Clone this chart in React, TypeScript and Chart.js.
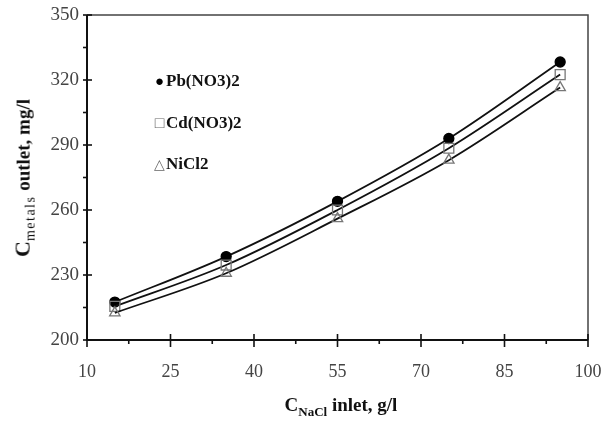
import React, { useEffect, useRef } from "react";
import { Chart, registerables } from "chart.js";

Chart.register(...registerables);

const xValues = [15, 35, 55, 75, 95];
const pbValues = [217.5, 238.5, 264, 293, 328.3];
const cdValues = [215.5, 234.6, 260, 288.5, 322.5];
const niValues = [212.5, 230.8, 256, 283, 316.5];
const seriesNames = ["Pb(NO3)2", "Cd(NO3)2", "NiCl2"];
const xTicks = [10, 25, 40, 55, 70, 85, 100];
const yTicks = [200, 230, 260, 290, 320, 350];

const toPts = (ys: number[]) => xValues.map((x, i) => ({ x, y: ys[i] }));

const zeroPad = (s: any) => {
  s.paddingTop = 0;
  s.paddingBottom = 0;
  s.paddingLeft = 0;
  s.paddingRight = 0;
};

const framePlugin = {
  id: "frameTicks",
  afterDraw(chart: any) {
    const { ctx, chartArea } = chart;
    const { left, right, top, bottom } = chartArea;
    const xs = chart.scales.x;
    const ys = chart.scales.y;
    ctx.save();
    ctx.strokeStyle = "#444";
    ctx.lineWidth = 1.5;
    ctx.beginPath();
    ctx.moveTo(left, top);
    ctx.lineTo(right, top);
    ctx.lineTo(right, bottom);
    ctx.stroke();
    ctx.strokeStyle = "#111";
    ctx.lineWidth = 2;
    ctx.beginPath();
    ctx.moveTo(left, top);
    ctx.lineTo(left, bottom);
    ctx.lineTo(right, bottom);
    ctx.stroke();
    ctx.lineWidth = 1.6;
    for (let i = 0; i < yTicks.length; i++) {
      const py = ys.getPixelForValue(yTicks[i]);
      ctx.beginPath();
      ctx.moveTo(left - 4, py);
      ctx.lineTo(left + 5, py);
      ctx.stroke();
      if (i < yTicks.length - 1) {
        const pm = ys.getPixelForValue((yTicks[i] + yTicks[i + 1]) / 2);
        ctx.beginPath();
        ctx.moveTo(left - 4, pm);
        ctx.lineTo(left, pm);
        ctx.stroke();
      }
    }
    for (let i = 0; i < xTicks.length; i++) {
      const px = xs.getPixelForValue(xTicks[i]);
      ctx.beginPath();
      ctx.moveTo(px, bottom - 6);
      ctx.lineTo(px, bottom + 7);
      ctx.stroke();
      if (i < xTicks.length - 1) {
        const pm = xs.getPixelForValue((xTicks[i] + xTicks[i + 1]) / 2);
        ctx.beginPath();
        ctx.moveTo(pm, bottom);
        ctx.lineTo(pm, bottom + 4);
        ctx.stroke();
      }
    }
    ctx.restore();
  },
};

export default function App() {
  const ref = useRef<HTMLCanvasElement>(null);
  useEffect(() => {
    if (!ref.current) return;
    const mk = (label: string, ys: number[], style: string, r: number, fill: string, border: string) => ({
      label,
      data: toPts(ys),
      showLine: true,
      borderColor: "#111",
      borderWidth: 1.8,
      cubicInterpolationMode: "monotone" as const,
      pointStyle: style,
      pointRadius: r,
      pointBackgroundColor: fill,
      pointBorderColor: border,
      pointBorderWidth: 1.3,
    });
    const chart = new Chart(ref.current, {
      type: "scatter",
      data: {
        datasets: [
          mk(seriesNames[2], niValues, "triangle", 6, "rgba(255,255,255,0)", "#777"),
          mk(seriesNames[1], cdValues, "rect", 7, "rgba(255,255,255,0)", "#777"),
          mk(seriesNames[0], pbValues, "circle", 5, "#000", "#000"),
        ],
      },
      options: {
        responsive: false,
        animation: false,
        layout: { padding: { top: 15, right: 26, left: 0, bottom: 0 } },
        plugins: { legend: { display: false }, tooltip: { enabled: false } },
        scales: {
          x: {
            type: "linear",
            min: 10,
            max: 100,
            afterBuildTicks: (s: any) => { s.ticks = xTicks.map((v) => ({ value: v })); },
            afterFit: (s: any) => { s.height = 83; zeroPad(s); },
            grid: { display: false, drawTicks: false },
            border: { display: false },
            ticks: { color: "#444", padding: 21, font: { family: "Liberation Serif", size: 18 } },
          },
          y: {
            type: "linear",
            min: 200,
            max: 350,
            afterBuildTicks: (s: any) => { s.ticks = yTicks.map((v) => ({ value: v })); },
            afterFit: (s: any) => { s.width = 87; zeroPad(s); },
            grid: { display: false, drawTicks: false },
            border: { display: false },
            ticks: { color: "#444", padding: 8, font: { family: "Liberation Serif", size: 19 } },
          },
        },
      },
      plugins: [framePlugin],
    });
    return () => chart.destroy();
  }, []);

  const serif = "'Liberation Serif', 'Times New Roman', serif";
  const legendRows = [
    { sym: "●", color: "#000", y: 81, size: 15 },
    { sym: "□", color: "#666", y: 123, size: 16 },
    { sym: "△", color: "#666", y: 164, size: 14 },
  ];
  return (
    <div style={{ position: "absolute", left: 0, top: 0, width: 614, height: 423, background: "#fff", overflow: "hidden" }}>
      <canvas ref={ref} width={614} height={423} style={{ display: "block", width: 614, height: 423 }} />
      {legendRows.map((r, i) => (
        <div key={i} style={{ position: "absolute", left: 153, top: r.y, transform: "translateY(-50%)", whiteSpace: "nowrap", fontFamily: serif, fontWeight: "bold", fontSize: 17, color: "#111", display: "flex", alignItems: "center" }}>
          <span style={{ color: r.color, fontSize: r.size, fontWeight: "normal", width: 13, display: "inline-block", textAlign: "center" }}>{r.sym}</span>
          <span>{seriesNames[i]}</span>
        </div>
      ))}
      <div style={{ position: "absolute", left: 24, top: 178, transform: "translate(-50%, -50%) rotate(-90deg)", whiteSpace: "nowrap", fontFamily: serif, fontWeight: "bold", fontSize: 19, color: "#111" }}>
        <span style={{ fontSize: 22 }}>C</span>
        <sub style={{ fontSize: 14, fontWeight: "normal", letterSpacing: 1.5 }}>metals</sub> outlet, mg/l
      </div>
      <div style={{ position: "absolute", left: 341, top: 407, transform: "translate(-50%, -50%)", whiteSpace: "nowrap", fontFamily: serif, fontWeight: "bold", fontSize: 19, color: "#111" }}>
        C<sub style={{ fontSize: 13 }}>NaCl</sub> inlet, g/l
      </div>
    </div>
  );
}
